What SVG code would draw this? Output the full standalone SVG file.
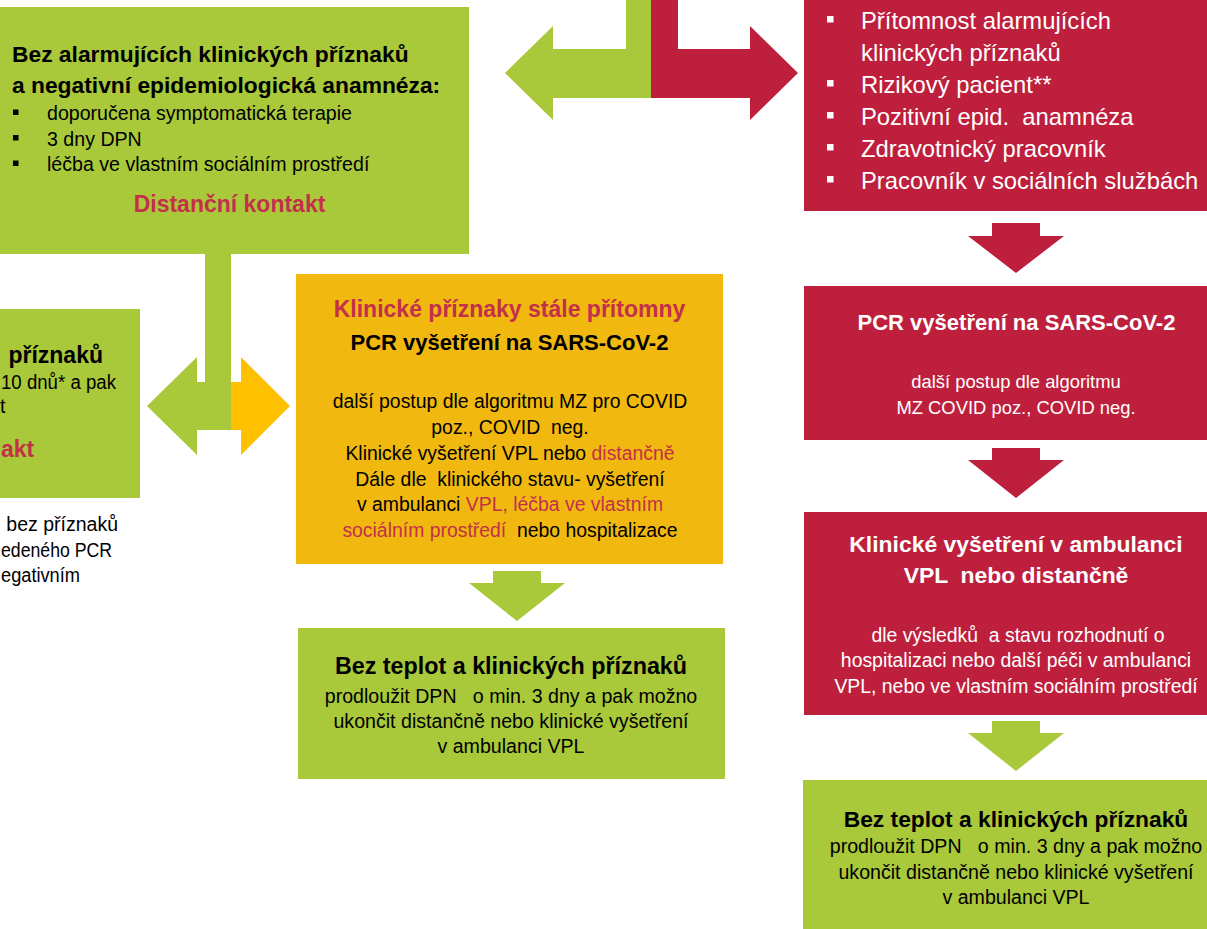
<svg xmlns="http://www.w3.org/2000/svg" width="1207" height="929" viewBox="0 0 1207 929">
<style>
  text { font-family: "Liberation Sans", Arial, sans-serif; fill: #000; }
  .b { font-weight: bold; }
  .g { fill: #A9C83A; }
  .r { fill: #BE1F3D; }
  .y { fill: #F1B80F; }
  .ya { fill: #FFC000; }
  text.tr, tspan.tr { fill: #C2304B; }
  text.w { fill: #FFFFFF; }
  .c { text-anchor: middle; }
  .e { text-anchor: end; }
  .bul { fill: #000; }
  .bulw { fill: #FFFFFF; }
</style>
<rect width="1207" height="929" fill="#FFFFFF"/>

<g id="connectors">
  <polygon class="g" points="626,0 651,0 651,98 553,98 553,120 505,73 553,26 553,49 626,49"/>
  <polygon class="r" points="651,0 678,0 678,49 750,49 750,26 798,73 750,120 750,98 651,98"/>
  <polygon class="g" points="205,254 231,254 231,430 197,430 197,455 147,406 197,357 197,382 205,382"/>
  <polygon class="ya" points="231,382 241,382 241,357 290,406 241,455 241,430 231,430"/>
  <polygon class="g" points="493,571 541,571 541,583 565,583 517,621 469,583 493,583"/>
  <polygon class="r" points="992,223 1040,223 1040,236 1064,236 1016,273 968,236 992,236"/>
  <polygon class="r" points="992,448 1040,448 1040,460 1064,460 1016,498 968,460 992,460"/>
  <polygon class="g" points="992,721 1040,721 1040,733 1064,733 1016,771 968,733 992,733"/>
</g>

<g id="box-no-alarm">
  <rect class="g" x="0" y="7" width="469" height="247"/>
  <text class="b" x="12" y="61.7" font-size="22.8">Bez alarmujících klinických příznaků</text>
  <text class="b" x="12" y="92.5" font-size="22.8">a negativní epidemiologická anamnéza:</text>
  <rect class="bul" x="13" y="109.5" width="5.5" height="5.5"/>
  <rect class="bul" x="13" y="135" width="5.5" height="5.5"/>
  <rect class="bul" x="13" y="160.5" width="5.5" height="5.5"/>
  <text x="47" y="120" font-size="19.6">doporučena symptomatická terapie</text>
  <text x="47" y="145.5" font-size="19.6">3 dny DPN</text>
  <text x="47" y="171" font-size="19.6">léčba ve vlastním sociálním prostředí</text>
  <text class="b c tr" x="229.5" y="212" font-size="23">Distanční kontakt</text>
</g>

<g id="box-left-partial">
  <rect class="g" x="0" y="309" width="140" height="189"/>
  <text class="b e" x="103" y="363" font-size="23">příznaků</text>
  <text x="1" y="389" font-size="19.5" textLength="115" lengthAdjust="spacingAndGlyphs">10 dnů* a pak</text>
  <text x="0" y="413" font-size="19.5">t</text>
  <text class="b tr" x="1" y="457" font-size="23">akt</text>
</g>

<g id="note-left">
  <text class="e" x="118" y="531" font-size="19.5">bez příznaků</text>
  <text x="1" y="556.5" font-size="19.5" textLength="111" lengthAdjust="spacingAndGlyphs">edeného PCR</text>
  <text x="1" y="582" font-size="19.5" textLength="79" lengthAdjust="spacingAndGlyphs">egativním</text>
</g>

<g id="box-pcr-center">
  <rect class="y" x="296" y="274" width="427" height="290"/>
  <text class="b c tr" x="509.5" y="317" font-size="23">Klinické příznaky stále přítomny</text>
  <text class="b c" x="509.5" y="350" font-size="22">PCR vyšetření na SARS-CoV-2</text>
  <text class="c" x="510" y="408" font-size="19.4">další postup dle algoritmu MZ pro COVID</text>
  <text class="c" x="510" y="434" font-size="19.4" xml:space="preserve">poz., COVID  neg.</text>
  <text class="c" x="510" y="460" font-size="19.4">Klinické vyšetření VPL nebo <tspan class="tr">distančně</tspan></text>
  <text class="c" x="510" y="486" font-size="19.4" xml:space="preserve">Dále dle  klinického stavu- vyšetření</text>
  <text class="c" x="510" y="511" font-size="19.4">v ambulanci <tspan class="tr">VPL, léčba ve vlastním</tspan></text>
  <text class="c" x="510" y="537" font-size="19.4" xml:space="preserve"><tspan class="tr">sociálním prostředí</tspan>  nebo hospitalizace</text>
</g>

<g id="box-center-end">
  <rect class="g" x="298" y="628" width="427" height="151"/>
  <text class="b c" x="511" y="674" font-size="23.3">Bez teplot a klinických příznaků</text>
  <text class="c" x="511" y="703" font-size="19.6" xml:space="preserve">prodloužit DPN   o min. 3 dny a pak možno</text>
  <text class="c" x="511" y="728" font-size="19.6">ukončit distančně nebo klinické vyšetření</text>
  <text class="c" x="511" y="753" font-size="19.6">v ambulanci VPL</text>
</g>

<g id="box-risk">
  <rect class="r" x="804" y="-5" width="410" height="216"/>
  <rect class="bulw" x="827" y="16" width="6.5" height="6.5"/>
  <rect class="bulw" x="827" y="80" width="6.5" height="6.5"/>
  <rect class="bulw" x="827" y="112" width="6.5" height="6.5"/>
  <rect class="bulw" x="827" y="144" width="6.5" height="6.5"/>
  <rect class="bulw" x="827" y="176" width="6.5" height="6.5"/>
  <text class="w" x="861" y="28.5" font-size="23.8">Přítomnost alarmujících</text>
  <text class="w" x="861" y="60.5" font-size="23.8">klinických příznaků</text>
  <text class="w" x="861" y="92.5" font-size="23.8">Rizikový pacient**</text>
  <text class="w" x="861" y="124.5" font-size="23.8" xml:space="preserve">Pozitivní epid.  anamnéza</text>
  <text class="w" x="861" y="156.5" font-size="23.8">Zdravotnický pracovník</text>
  <text class="w" x="861" y="188.5" font-size="23.8">Pracovník v sociálních službách</text>
</g>

<g id="box-pcr-right">
  <rect class="r" x="804" y="286" width="410" height="154"/>
  <text class="b c w" x="1016.5" y="330" font-size="22">PCR vyšetření na SARS-CoV-2</text>
  <text class="c w" x="1016" y="388" font-size="18.4">další postup dle algoritmu</text>
  <text class="c w" x="1016" y="414" font-size="18.4">MZ COVID poz., COVID neg.</text>
</g>

<g id="box-clinical">
  <rect class="r" x="804" y="512" width="410" height="203"/>
  <text class="b c w" x="1016" y="552" font-size="22.9">Klinické vyšetření v ambulanci</text>
  <text class="b c w" x="1016" y="583" font-size="22.9" xml:space="preserve">VPL  nebo distančně</text>
  <text class="c w" x="1018" y="642" font-size="19.4" xml:space="preserve">dle výsledků  a stavu rozhodnutí o</text>
  <text class="c w" x="1016" y="667" font-size="19.4">hospitalizaci nebo další péči v ambulanci</text>
  <text class="c w" x="1016" y="693" font-size="19.4">VPL, nebo ve vlastním sociálním prostředí</text>
</g>

<g id="box-right-end">
  <rect class="g" x="803" y="780" width="410" height="155"/>
  <text class="b c" x="1016" y="827" font-size="22.8">Bez teplot a klinických příznaků</text>
  <text class="c" x="1016" y="853" font-size="19.6" xml:space="preserve">prodloužit DPN   o min. 3 dny a pak možno</text>
  <text class="c" x="1016" y="879" font-size="19.6">ukončit distančně nebo klinické vyšetření</text>
  <text class="c" x="1016" y="904" font-size="19.6">v ambulanci VPL</text>
</g>
</svg>
